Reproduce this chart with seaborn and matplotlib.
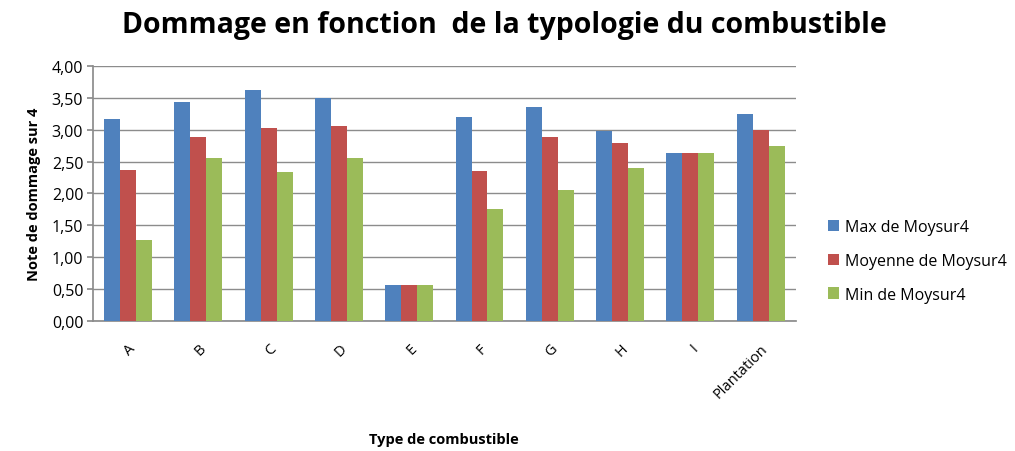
import matplotlib

matplotlib.use("Agg")
import matplotlib.pyplot as plt
import pandas as pd
import seaborn as sns
from matplotlib.ticker import FuncFormatter, MultipleLocator

categories = ["A", "B", "C", "D", "E", "F", "G", "H", "I", "Plantation"]
series = ["Max de Moysur4", "Moyenne de Moysur4", "Min de Moysur4"]
max_vals = [3.16, 3.43, 3.62, 3.50, 0.56, 3.20, 3.36, 2.98, 2.63, 3.25]
mean_vals = [2.37, 2.88, 3.02, 3.06, 0.56, 2.35, 2.88, 2.79, 2.63, 2.99]
min_vals = [1.27, 2.56, 2.33, 2.56, 0.56, 1.75, 2.05, 2.40, 2.63, 2.74]
colors = ["#4F81BD", "#C0504D", "#9BBB59"]

df = pd.DataFrame({
    "type": categories * 3,
    "serie": [s for s in series for _ in categories],
    "note": max_vals + mean_vals + min_vals,
})

sns.set_theme(style="white")
plt.rcParams["font.family"] = ["Open Sans", "DejaVu Sans"]
plt.rcParams["text.color"] = "black"
plt.rcParams["xtick.color"] = "black"
plt.rcParams["ytick.color"] = "black"
plt.rcParams["axes.labelcolor"] = "black"

fig = plt.figure(figsize=(10.15, 4.52), dpi=100)
ax = fig.add_axes([0.0916, 0.2876, 0.6924, 0.5644])

sns.barplot(data=df, x="type", y="note", hue="serie", order=categories,
            hue_order=series, palette=colors, saturation=1, width=0.68,
            errorbar=None, linewidth=0, ax=ax, zorder=3)

ax.set_ylim(0, 4)
ax.yaxis.set_major_locator(MultipleLocator(0.5))
ax.yaxis.set_major_formatter(FuncFormatter(lambda v, _: f"{v:.2f}".replace(".", ",")))
ax.grid(axis="y", color="#8c8c8c", lw=1, zorder=0)
ax.set_axisbelow(True)
for side in ["top", "right"]:
    ax.spines[side].set_visible(False)
for side in ["left", "bottom"]:
    ax.spines[side].set_color("#8c8c8c")
ax.tick_params(axis="y", left=True, length=4, color="#8c8c8c", labelcolor="black",
               labelsize=11.5, pad=3)
ax.tick_params(axis="x", bottom=False, labelcolor="black", labelsize=10.5, pad=8)
for lbl in ax.get_xticklabels():
    lbl.set_rotation(45)
    lbl.set_ha("right")
    lbl.set_rotation_mode("anchor")

ax.set_xlabel("")
fig.text(0.437, 0.027, "Type de combustible", fontsize=10.5, fontweight="bold",
         ha="center", va="center")
ax.set_ylabel("Note de dommage sur 4", fontsize=10.5, fontweight="bold", labelpad=8)
fig.suptitle("Dommage en fonction  de la typologie du combustible",
             fontsize=20.5, fontweight="bold", x=0.497, y=0.975)

ax.legend(loc="center left", bbox_to_anchor=(1.025, 0.235), frameon=False,
          fontsize=11.5, handlelength=0.7, handleheight=0.7, labelspacing=1.1,
          handletextpad=0.4)

fig.savefig("out.png", dpi=100)
